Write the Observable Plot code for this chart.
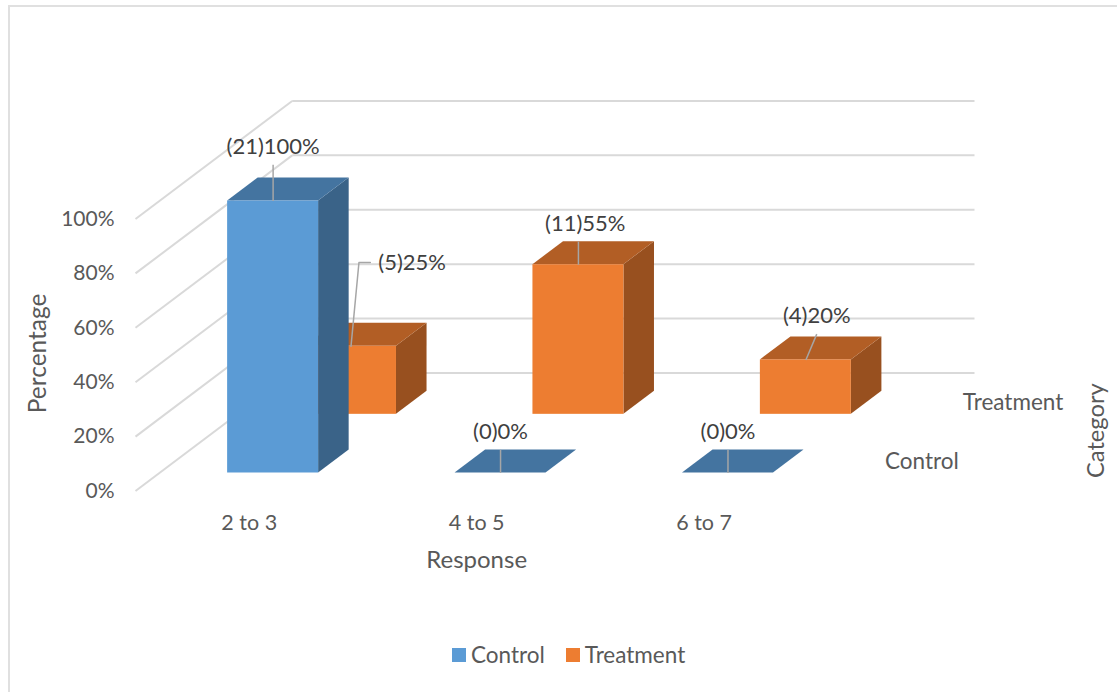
<!DOCTYPE html>
<html>
<head>
<meta charset="utf-8">
<script src="https://cdn.jsdelivr.net/npm/d3@7"></script>
<script src="https://cdn.jsdelivr.net/npm/@observablehq/plot@0.6"></script>
<style>
  html, body { margin: 0; padding: 0; background: #fff; overflow: hidden; }
  body { width: 1117px; height: 692px; position: relative; font-family: Lato, "Open Sans", sans-serif; }
  .frame { position: absolute; left: 8px; top: 5px; width: 1200px; height: 800px;
           border-top: 2px solid #e0e0e0; border-left: 2px solid #e0e0e0; }
  #chart { position: absolute; left: 0; top: 0; }
  #chart svg { display: block; overflow: visible; }
  .legend { position: absolute; left: 452px; top: 642px; display: flex; align-items: center;
            font-size: 22.5px; color: #595959; line-height: 26px; }
  .legend i { display: inline-block; width: 14px; height: 14px; margin-right: 5px; }
  .legend span { display: inline-flex; align-items: center; margin-right: 21px; }
</style>
</head>
<body>
<div class="frame"></div>
<div id="chart"></div>
<div class="legend" id="legend"></div>
<script>
// Survey results by response band
const responses = ["2 to 3", "4 to 5", "6 to 7"];
const seriesNames = ["Control", "Treatment"];
const controlPercent = [100, 0, 0];
const controlCount = [21, 0, 0];
const treatmentPercent = [25, 55, 20];
const treatmentCount = [5, 11, 4];
const percentTicks = [0, 20, 40, 60, 80, 100];

// Oblique projection of the floor: depth runs 0 (front) to 1 (back)
const skewX = 0.689;      // category units per unit of depth
const skewY = 43.4;       // percent units per unit of depth
const barWidth = 0.4;
const barDepth = 0.195;
const seriesDepth = { Control: 0.25, Treatment: 0.747 };
const shade = {
  Control: { front: "#5b9bd5", top: "#4474a0", side: "#3a6388" },
  Treatment: { front: "#ed7d31", top: "#b25e25", side: "#98501f" }
};
const floorLeft = -0.5;
const floorRight = 2.5;

const bars = [
  ...responses.map((r, i) => ({ series: "Treatment", i, value: treatmentPercent[i], count: treatmentCount[i] })),
  ...responses.map((r, i) => ({ series: "Control", i, value: controlPercent[i], count: controlCount[i] }))
].map(b => {
  const d0 = seriesDepth[b.series] - barDepth / 2;
  const d1 = d0 + barDepth;
  return {
    ...b,
    x0: b.i - barWidth / 2 + d0 * skewX,
    x1: b.i + barWidth / 2 + d0 * skewX,
    shiftX: barDepth * skewX,
    base: d0 * skewY,
    shiftY: barDepth * skewY,
    top: d0 * skewY + b.value
  };
});

// Callout leaders leave the middle of each front top edge
const calloutShape = {
  "Control-0": { rise: 13.3, lean: 0, nudge: 0 },
  "Control-1": { rise: 8.5, lean: 0, nudge: 0 },
  "Control-2": { rise: 8.5, lean: 0, nudge: 0 },
  "Treatment-0": { rise: 30.8, lean: 0.035, side: 0.05 },
  "Treatment-1": { rise: 8.5, lean: 0, nudge: 0.03 },
  "Treatment-2": { rise: 9.5, lean: 0.048, nudge: 0 }
};
const callouts = bars.map(b => {
  const s = calloutShape[`${b.series}-${b.i}`];
  const cx = (b.x0 + b.x1) / 2;
  return { ...b, cx, tipX: cx + s.lean, tipY: b.top + s.rise, side: s.side, nudge: s.nudge || 0,
           label: `(${b.count})${b.value}%` };
});

const faces = name => {
  const set = bars.filter(b => b.series === name);
  const c = shade[name];
  const sides = set.flatMap(b => [
    { id: b.i, x: b.x1, y1: b.base, y2: b.top },
    { id: b.i, x: b.x1 + b.shiftX, y1: b.base + b.shiftY, y2: b.top + b.shiftY }
  ]);
  const tops = set.flatMap(b => [
    { id: b.i, y: b.top, x1: b.x0, x2: b.x1 },
    { id: b.i, y: b.top + b.shiftY, x1: b.x0 + b.shiftX, x2: b.x1 + b.shiftX }
  ]);
  return [
    Plot.areaY(sides, { x: "x", y1: "y1", y2: "y2", z: "id", fill: c.side }),
    Plot.areaX(tops, { y: "y", x1: "x1", x2: "x2", z: "id", fill: c.top }),
    Plot.rect(set, { x1: "x0", x2: "x1", y1: "base", y2: "top", fill: c.front })
  ];
};

const gridStroke = { stroke: "#d9d9d9", strokeWidth: 2 };
const plain = callouts.filter(c => !c.side);
const elbowed = callouts.filter(c => c.side);

const chart = Plot.plot({
  width: 1117,
  height: 632,
  marginLeft: 122,
  marginBottom: 127,
  marginTop: 0,
  marginRight: 0,
  style: { background: "transparent", fontFamily: "Lato, 'Open Sans', sans-serif" },
  x: { type: "linear", domain: [floorLeft, floorRight + skewX], range: [135, 974] },
  y: { type: "linear", domain: [0, 100], range: [490.5, 218.5] },
  marks: [
    // Side wall and back wall rules
    Plot.link(percentTicks, { x1: floorLeft, x2: floorLeft + skewX, y1: d => d, y2: d => d + skewY, ...gridStroke }),
    Plot.link(percentTicks, { x1: floorLeft + skewX, x2: floorRight + skewX, y1: d => d + skewY, y2: d => d + skewY, ...gridStroke }),
    ...faces("Treatment"),
    ...faces("Control"),
    // Callouts
    Plot.link(plain, { x1: "cx", y1: "top", x2: "tipX", y2: "tipY", stroke: "#a6a6a6", strokeWidth: 1.5 }),
    Plot.line(elbowed.flatMap(c => [
      { x: c.cx, y: c.top }, { x: c.tipX, y: c.tipY }, { x: c.tipX + c.side, y: c.tipY }
    ]), { x: "x", y: "y", stroke: "#a6a6a6", strokeWidth: 1.5 }),
    Plot.text(plain, { x: d => d.tipX + d.nudge, y: "tipY", text: "label", dy: -18, fontSize: 22, fill: "#404040" }),
    Plot.text(elbowed, { x: d => d.tipX + d.side, y: "tipY", text: "label", dx: 8, textAnchor: "start", fontSize: 22, fill: "#404040" }),
    // Axes
    Plot.axisY(percentTicks, { anchor: "left", tickSize: 0, tickPadding: 8, tickFormat: d => `${d}%`, fontSize: 21, color: "#595959", label: null }),
    Plot.axisX([0, 1, 2], { anchor: "bottom", tickSize: 0, tickPadding: 9, tickFormat: d => responses[d], fontSize: 21.5, color: "#595959", label: null }),
    // Depth axis labels
    Plot.text(seriesNames, { x: d => floorRight + seriesDepth[d] * skewX, y: d => seriesDepth[d] * skewY, text: d => d, dx: 28, textAnchor: "start", fontSize: 22.5, fill: "#595959" }),
    // Axis titles
    Plot.text(["Response"], { x: 1, y: -25.5, text: d => d, fontSize: 24, fill: "#595959" }),
    Plot.text(["Percentage"], { x: -0.926, y: 50.6, text: d => d, rotate: -90, fontSize: 24.5, fill: "#595959" }),
    Plot.text(["Category"], { x: 3.724, y: 22.2, text: d => d, rotate: -90, fontSize: 23.7, fill: "#595959" })
  ]
});
document.getElementById("chart").append(chart);

// Legend below the chart
document.getElementById("legend").innerHTML = seriesNames
  .map(n => `<span><i style="background:${shade[n].front}"></i>${n}</span>`).join("");
</script>
</body>
</html>
